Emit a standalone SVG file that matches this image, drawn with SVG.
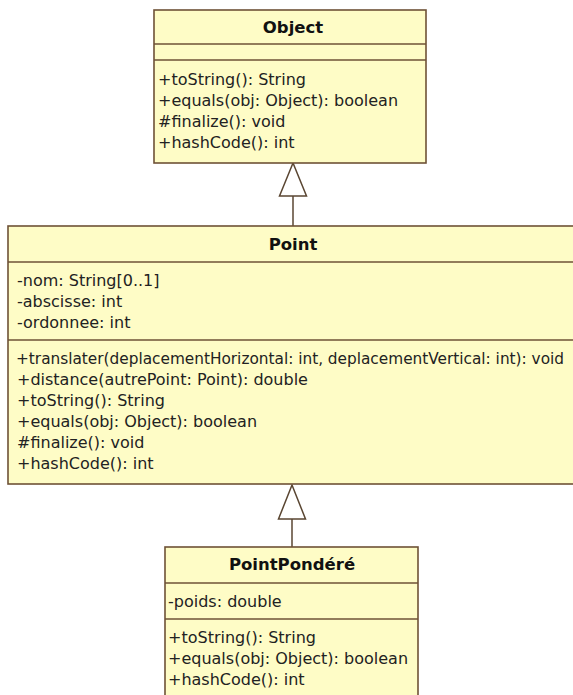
<svg xmlns="http://www.w3.org/2000/svg" width="573" height="695" viewBox="0 0 573 695">
<style>
.box{fill:#fefcc6;stroke:#6e5236;stroke-width:1.6}
.div{stroke:#6e5236;stroke-width:1.6}
.t{font-family:"DejaVu Sans",Verdana,sans-serif;font-size:16px;fill:#222}
.h{font-family:"DejaVu Sans",Verdana,sans-serif;font-size:16.5px;font-weight:bold;fill:#111;text-anchor:middle}
.conn{stroke:#5a4632;stroke-width:1.5;fill:none}
.tri{fill:#fff;stroke:#5a4632;stroke-width:1.5}
</style>
<rect width="573" height="695" fill="#fff"/>
<g id="connectors">
<line class="conn" x1="293" y1="196" x2="293" y2="226"/>
<polygon class="tri" points="293,163 279.5,196 306.5,196"/>
<line class="conn" x1="292" y1="519" x2="292" y2="547"/>
<polygon class="tri" points="292,485 278.5,519 305.5,519"/>
</g>
<g id="Object">
<rect class="box" x="154" y="10" width="272" height="153"/>
<line class="div" x1="154" y1="44" x2="426" y2="44"/>
<line class="div" x1="154" y1="60" x2="426" y2="60"/>
<text class="h" x="293" y="33">Object</text>
<text class="t" x="158" y="85">+toString(): String</text>
<text class="t" x="158" y="106">+equals(obj: Object): boolean</text>
<text class="t" x="158" y="127">#finalize(): void</text>
<text class="t" x="158" y="148">+hashCode(): int</text>
</g>
<g id="Point">
<rect class="box" x="8" y="226" width="580" height="258"/>
<line class="div" x1="8" y1="262" x2="588" y2="262"/>
<line class="div" x1="8" y1="340" x2="588" y2="340"/>
<text class="h" x="293" y="250">Point</text>
<text class="t" x="17" y="286">-nom: String[0..1]</text>
<text class="t" x="17" y="307">-abscisse: int</text>
<text class="t" x="17" y="328">-ordonnee: int</text>
<text class="t" x="16" y="364" textLength="548" lengthAdjust="spacingAndGlyphs">+translater(deplacementHorizontal: int, deplacementVertical: int): void</text>
<text class="t" x="17" y="385">+distance(autrePoint: Point): double</text>
<text class="t" x="17" y="406">+toString(): String</text>
<text class="t" x="17" y="427">+equals(obj: Object): boolean</text>
<text class="t" x="17" y="448">#finalize(): void</text>
<text class="t" x="17" y="469">+hashCode(): int</text>
</g>
<g id="PointPondere">
<rect class="box" x="165" y="547" width="253" height="160"/>
<line class="div" x1="165" y1="583" x2="418" y2="583"/>
<line class="div" x1="165" y1="619" x2="418" y2="619"/>
<text class="h" x="292" y="570">PointPondéré</text>
<text class="t" x="168" y="607">-poids: double</text>
<text class="t" x="168" y="643">+toString(): String</text>
<text class="t" x="168" y="664">+equals(obj: Object): boolean</text>
<text class="t" x="168" y="685">+hashCode(): int</text>
</g>
</svg>
